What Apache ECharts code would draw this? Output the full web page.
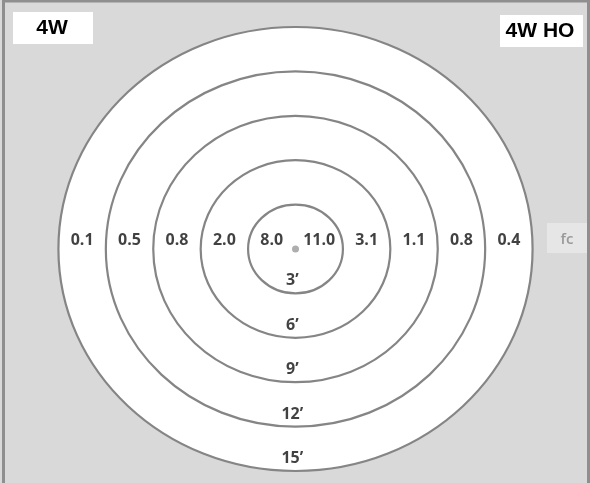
<!DOCTYPE html>
<html>
<head>
<meta charset="utf-8">
<script src="https://cdn.jsdelivr.net/npm/echarts@6/dist/echarts.min.js"></script>
<style>
  html, body { margin: 0; padding: 0; background: #d9d9d9; }
  #chart { width: 590px; height: 483px; }
</style>
</head>
<body>
<div id="chart"></div>
<script>
// Ring distances (feet)
const ringDistances = [3, 6, 9, 12, 15];
const distanceLabels = ["3’", "6’", "9’", "12’", "15’"];
// Footcandle readings per band (inner band first)
const leftFc = [8.0, 2.0, 0.8, 0.5, 0.1];   // 4W
const rightFc = [11.0, 3.1, 1.1, 0.8, 0.4]; // 4W HO
const leftTitle = "4W";
const rightTitle = "4W HO";
const unitLabel = "fc";

const chart = echarts.init(document.getElementById('chart'), null, { renderer: 'canvas' });

// band midpoints derived from ring radii
const bandMid = ringDistances.map((r, i) => i === 0 ? r / 2 : (r + ringDistances[i - 1]) / 2);
const labelRowY = 0.55;

const fcData = [];
leftFc.forEach((v, i) => fcData.push({ value: [-bandMid[i], labelRowY], name: v.toFixed(1) }));
rightFc.forEach((v, i) => fcData.push({ value: [bandMid[i], labelRowY], name: v.toFixed(1) }));

const distData = ringDistances.map((r, i) => ({ value: [-0.2, -(r - 0.85)], name: distanceLabels[i] }));

const ringsDesc = ringDistances.slice().reverse();

const labelFont = { color: '#111', fontFamily: 'Open Sans', fontWeight: 700, fontSize: 16 };

const option = {
  backgroundColor: '#d9d9d9',
  animation: false,
  grid: { left: 11, width: 569, top: 12.2, height: 466.2 },
  xAxis: { type: 'value', min: -18, max: 18, show: false },
  yAxis: { type: 'value', min: -15.5, max: 16, show: false },
  series: [
    {
      type: 'custom',
      data: ringsDesc.map(r => [r]),
      renderItem: function (params, api) {
        const r = api.value(0);
        const c = api.coord([0, 0]);
        const s = api.size([r, r]);
        const outer = r === ringDistances[ringDistances.length - 1];
        return {
          type: 'ellipse',
          shape: { cx: c[0], cy: c[1], rx: s[0], ry: s[1] },
          style: { fill: outer ? '#ffffff' : 'none', stroke: '#858585', lineWidth: 2.2 }
        };
      },
      z: 1
    },
    {
      type: 'scatter',
      data: [[0, 0]],
      symbolSize: 7,
      itemStyle: { color: '#9a9a9a' },
      z: 2
    },
    {
      type: 'scatter',
      data: fcData,
      symbolSize: 0,
      label: Object.assign({ show: true, position: 'inside', formatter: '{b}' }, labelFont),
      z: 3
    },
    {
      type: 'scatter',
      data: distData,
      symbolSize: 0,
      label: Object.assign({ show: true, position: 'inside', formatter: '{b}' }, labelFont),
      z: 3
    }
  ],
  graphic: [
    { type: 'rect', shape: { x: 3.5, y: 1, width: 585, height: 490 }, style: { fill: 'none', stroke: '#8f8f8f', lineWidth: 3 }, z: 10 },
    { type: 'rect', shape: { x: 13, y: 12, width: 80, height: 32 }, style: { fill: '#ffffff' }, z: 10 },
    { type: 'text', x: 52, y: 28, style: { text: leftTitle, fill: '#000', font: 'bold 21px "Liberation Sans", Arial, sans-serif', textAlign: 'center', textVerticalAlign: 'middle' }, z: 11 },
    { type: 'rect', shape: { x: 500, y: 15, width: 83, height: 32 }, style: { fill: '#ffffff' }, z: 10 },
    { type: 'text', x: 540, y: 31, style: { text: rightTitle, fill: '#000', font: 'bold 21px "Liberation Sans", Arial, sans-serif', textAlign: 'center', textVerticalAlign: 'middle' }, z: 11 },
    { type: 'rect', shape: { x: 547, y: 223, width: 40, height: 30 }, style: { fill: '#e6e6e6' }, z: 10 },
    { type: 'text', x: 567, y: 240, style: { text: unitLabel, fill: '#999999', font: '600 15px "Open Sans", sans-serif', textAlign: 'center', textVerticalAlign: 'middle' }, z: 11 }
  ]
};
chart.setOption(option);
</script>
</body>
</html>
